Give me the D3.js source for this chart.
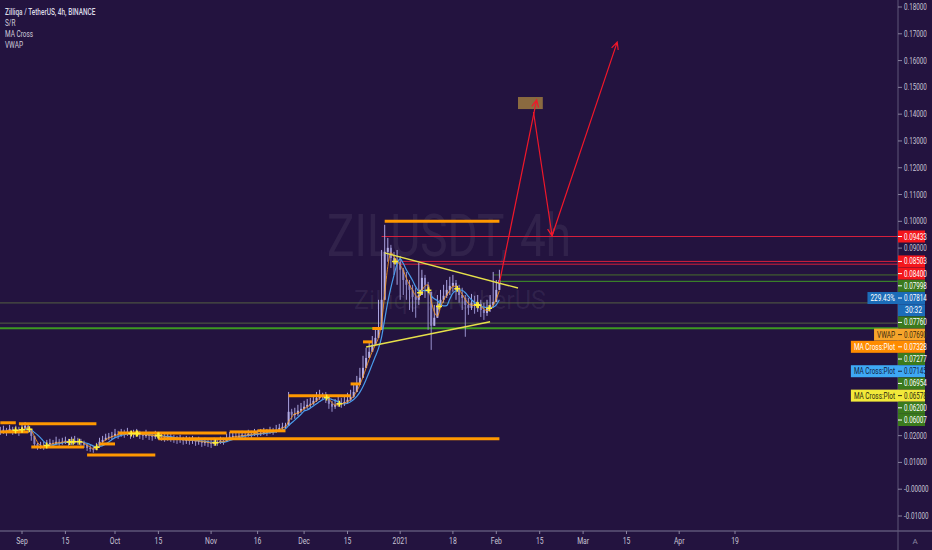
<!DOCTYPE html>
<html><head><meta charset="utf-8">
<script src="https://cdn.jsdelivr.net/npm/d3@7"></script>
<style>html,body{margin:0;padding:0;background:#23133f;overflow:hidden}svg{display:block}</style>
</head><body><svg id="c" width="932" height="550"></svg>
<script>
// ---------- DATA ----------
const firstDay = "2020-08-25"; // one candle per day
const closes = [
0.0218,0.0222,0.0214,0.0225,0.0218,0.0222,0.0214,0.0229,0.0237,0.0225,
0.0199,0.0169,0.0158,0.0162,0.0158,0.0169,0.0173,0.0169,0.0177,0.0173,
0.0177,0.0181,0.0173,0.0177,0.0181,0.0177,0.0173,0.0166,0.0154,0.0151,
0.0147,0.0162,0.0177,0.0184,0.0192,0.0196,0.0199,0.0207,0.0203,0.0210,
0.0207,0.0214,0.0203,0.0207,0.0210,0.0203,0.0199,0.0207,0.0199,0.0196,
0.0203,0.0199,0.0196,0.0192,0.0196,0.0192,0.0188,0.0184,0.0188,0.0181,
0.0184,0.0181,0.0184,0.0177,0.0181,0.0173,0.0177,0.0173,0.0169,0.0177,
0.0173,0.0181,0.0177,0.0188,0.0196,0.0199,0.0196,0.0199,0.0203,0.0199,
0.0207,0.0203,0.0210,0.0207,0.0210,0.0214,0.0210,0.0218,0.0214,0.0222,
0.0229,0.0233,0.0237,0.0289,0.0278,0.0281,0.0293,0.0300,0.0308,0.0315,
0.0319,0.0330,0.0341,0.0349,0.0352,0.0341,0.0319,0.0308,0.0315,0.0322,
0.0319,0.0326,0.0334,0.0345,0.0363,0.0390,0.0416,0.0453,0.0490,0.0513,
0.0539,0.0565,0.0595,0.0707,0.0886,0.0901,0.0863,0.0841,0.0849,0.0819,
0.0781,0.0763,0.0744,0.0718,0.0707,0.0725,0.0789,0.0763,0.0737,0.0610,
0.0640,0.0688,0.0707,0.0722,0.0744,0.0759,0.0770,0.0744,0.0725,0.0714,
0.0688,0.0677,0.0696,0.0684,0.0692,0.0669,0.0658,0.0673,0.0688,0.0699,
0.0744,0.0781];
const highs = [
0.0233,0.0237,0.0229,0.0240,0.0233,0.0237,0.0233,0.0244,0.0251,0.0240,
0.0225,0.0196,0.0173,0.0177,0.0177,0.0184,0.0188,0.0184,0.0196,0.0188,
0.0192,0.0196,0.0188,0.0196,0.0199,0.0192,0.0188,0.0181,0.0169,0.0166,
0.0162,0.0173,0.0192,0.0199,0.0207,0.0210,0.0214,0.0225,0.0218,0.0225,
0.0222,0.0229,0.0218,0.0222,0.0225,0.0218,0.0214,0.0222,0.0214,0.0210,
0.0218,0.0214,0.0210,0.0207,0.0210,0.0207,0.0203,0.0199,0.0203,0.0196,
0.0199,0.0196,0.0199,0.0192,0.0196,0.0188,0.0192,0.0188,0.0184,0.0192,
0.0188,0.0196,0.0192,0.0207,0.0214,0.0214,0.0210,0.0214,0.0218,0.0214,
0.0222,0.0218,0.0225,0.0222,0.0225,0.0229,0.0225,0.0233,0.0229,0.0240,
0.0244,0.0248,0.0248,0.0363,0.0300,0.0304,0.0315,0.0322,0.0330,0.0337,
0.0341,0.0352,0.0363,0.0371,0.0360,0.0363,0.0341,0.0330,0.0337,0.0345,
0.0341,0.0349,0.0360,0.0371,0.0393,0.0423,0.0453,0.0498,0.0528,0.0550,
0.0572,0.0602,0.0707,0.0893,0.0987,0.0938,0.0912,0.0886,0.0893,0.0871,
0.0826,0.0811,0.0781,0.0763,0.0752,0.0845,0.0819,0.0800,0.0774,0.0651,
0.0688,0.0725,0.0744,0.0763,0.0781,0.0793,0.0800,0.0781,0.0763,0.0752,
0.0725,0.0714,0.0729,0.0722,0.0725,0.0707,0.0696,0.0707,0.0725,0.0811,
0.0781,0.0819];
const lows = [
0.0203,0.0207,0.0199,0.0210,0.0203,0.0207,0.0199,0.0214,0.0222,0.0210,
0.0181,0.0154,0.0147,0.0151,0.0147,0.0158,0.0162,0.0158,0.0166,0.0162,
0.0166,0.0169,0.0162,0.0166,0.0169,0.0166,0.0162,0.0154,0.0143,0.0140,
0.0136,0.0147,0.0162,0.0173,0.0181,0.0184,0.0184,0.0192,0.0188,0.0196,
0.0192,0.0199,0.0188,0.0192,0.0196,0.0188,0.0184,0.0192,0.0184,0.0181,
0.0188,0.0184,0.0181,0.0177,0.0181,0.0177,0.0173,0.0169,0.0173,0.0166,
0.0169,0.0166,0.0169,0.0162,0.0166,0.0158,0.0162,0.0158,0.0154,0.0162,
0.0162,0.0169,0.0166,0.0177,0.0184,0.0188,0.0184,0.0188,0.0192,0.0188,
0.0196,0.0192,0.0199,0.0196,0.0199,0.0203,0.0199,0.0207,0.0203,0.0210,
0.0218,0.0222,0.0225,0.0259,0.0259,0.0263,0.0274,0.0285,0.0293,0.0300,
0.0304,0.0315,0.0326,0.0334,0.0337,0.0322,0.0300,0.0289,0.0300,0.0308,
0.0304,0.0311,0.0319,0.0330,0.0341,0.0371,0.0393,0.0431,0.0468,0.0490,
0.0513,0.0543,0.0572,0.0625,0.0707,0.0849,0.0826,0.0800,0.0763,0.0707,
0.0725,0.0707,0.0669,0.0662,0.0640,0.0688,0.0737,0.0714,0.0595,0.0520,
0.0613,0.0651,0.0677,0.0696,0.0714,0.0725,0.0737,0.0707,0.0696,0.0669,
0.0569,0.0651,0.0669,0.0655,0.0662,0.0643,0.0632,0.0647,0.0662,0.0677,
0.0714,0.0744];

// S/R segments (orange)
const srStart = ["2020-08-25","2020-08-31","2020-08-25","2020-09-04","2020-09-22","2020-09-26","2020-10-02","2020-10-15","2020-11-07","2020-11-16","2020-11-26","2020-12-16","2020-12-20","2020-12-23","2020-12-27"];
const srEnd   = ["2020-08-30","2020-09-25","2020-09-03","2020-09-21","2020-10-14","2020-10-01","2020-11-06","2021-02-02","2020-11-16","2020-11-25","2020-12-16","2020-12-19","2020-12-23","2020-12-26","2021-02-02"];
const srLevel = [0.0248,0.0244,0.0214,0.0158,0.0128,0.0169,0.0210,0.0188,0.0214,0.0218,0.0349,0.0393,0.0550,0.0600,0.1000];

// horizontal level lines
const levelValues = [0.09433,0.08503,0.08400,0.07998,0.07760,0.06954,0.06200,0.06007];
const levelStarts = ["2020-12-26","2021-01-01","2021-01-01","2021-01-31","2021-02-02","2020-08-20","2020-08-20","2020-08-20"];
const levelKinds  = ["red","red","red","olive","green","grey","grey","greenBold"];

// trend lines (triangle)
const trendFrom = [["2020-12-27",0.0882],["2020-12-21",0.0531]];
const trendTo   = [["2021-02-08",0.0751],["2021-01-30",0.0625]];

// projection arrows
const arrowFrom = [["2021-02-02",0.0770],["2021-02-13",0.1408],["2021-02-19",0.0946]];
const arrowTo   = [["2021-02-14",0.1453],["2021-02-19",0.0946],["2021-03-12",0.1669]];
const boxDates  = ["2021-02-08","2021-02-16"];
const boxValues = [0.1464,0.1419];

// axes
const xTickDates  = ["2020-09-01","2020-09-15","2020-10-01","2020-10-15","2020-11-01","2020-11-16","2020-12-01","2020-12-15","2021-01-01","2021-01-18","2021-02-01","2021-02-15","2021-03-01","2021-03-15","2021-04-01","2021-04-19"];
const xTickLabels = ["Sep","15","Oct","15","Nov","16","Dec","15","2021","18","Feb","15","Mar","15","Apr","19"];
const yTickValues = [0.18,0.17,0.16,0.15,0.14,0.13,0.12,0.11,0.10,0.09,0.08,0.07,0.06,0.05,0.04,0.03,0.02,0.01,0,-0.01];
const yTickLabels = ["0.18000","0.17000","0.16000","0.15000","0.14000","0.13000","0.12000","0.11000","0.10000","0.09000","0.08000","0.07000","0.06000","0.05000","0.04000","0.03000","0.02000","0.01000","-0.00000","-0.01000"];

// price-scale labels
const tagValues = [0.09433,0.08503,0.08400,0.07998,0.07814,null,0.07760,0.07690,0.07328,0.07277,0.07145,0.06954,0.06578,0.06200,0.06007];
const tagTexts  = ["0.09433","0.08503","0.08400","0.07998","0.07814","30:32","0.07760","0.07690","0.07328","0.07277","0.07145","0.06954","0.06578","0.06200","0.06007"];
const tagKinds  = ["red","red","red","green","price","price","green","vwap","maO","green","maB","green","maY","green","green"];
const tagSide   = ["","","","","229.43%","","","VWAP","MA Cross:Plot","","MA Cross:Plot","","MA Cross:Plot","",""];

const legendLines = ["Zilliqa / TetherUS, 4h, BINANCE","S/R","MA Cross","VWAP"];

// ---------- STYLE ----------
const BG="#23133f", FONT="Roboto, 'Noto Sans', sans-serif";
const tagColors = {red:["#f4161c","#fff"],green:["#3b7a1d","#fff"],price:["#1c6cb8","#fff"],vwap:["#f6a52b","#3a2a10"],maO:["#ff8c00","#fff"],maB:["#3ea8f4","#13213f"],maY:["#f2e93a","#2a2a10"]};
const lineColors = {red:["#d61f3c",1,1],olive:["#4d7a2a",1,0.9],grey:["#5b6a45",1,0.9],green:["#3f9a25",1,1],greenBold:["#3c9a22",2,1]};

const P = d3.utcParse("%Y-%m-%d");
const svg = d3.select("#c");
const W=932,H=550,AX=898,AY=531;
svg.append("rect").attr("width",W).attr("height",H).attr("fill",BG);

const x = d3.scaleUtc().domain([P("2020-09-01"),P("2021-04-19")]).range([22,735]);
const y = d3.scaleLinear().domain([-0.01,0.18]).range([516,7]);

svg.append("defs").append("clipPath").attr("id","pc").append("rect").attr("width",AX).attr("height",AY);
const g = svg.append("g").attr("clip-path","url(#pc)");

// condensed text helper (horizontal scale)
function ctext(parent,tx,ty,t,size,fill,anchor,f,weight){
  return parent.append("text").attr("transform",`translate(${tx},${ty}) scale(${f},1)`)
    .attr("x",0).attr("y",0).attr("text-anchor",anchor||"start").attr("font-family",FONT)
    .attr("font-size",size).attr("font-weight",weight||400).attr("fill",fill).text(t);
}

// watermark
g.append("text").attr("x",449).attr("y",256).attr("text-anchor","middle")
 .attr("font-family",FONT).attr("font-size",60).attr("fill","rgba(255,255,255,0.065)")
 .attr("textLength",244).attr("lengthAdjust","spacingAndGlyphs").text("ZILUSDT, 4h");
g.append("text").attr("x",450).attr("y",309).attr("text-anchor","middle")
 .attr("font-family",FONT).attr("font-size",25).attr("fill","rgba(255,255,255,0.065)")
 .attr("textLength",192).attr("lengthAdjust","spacingAndGlyphs").text("Zilliqa / TetherUS");

// level lines
levelValues.forEach((v,i)=>{
  const c=lineColors[levelKinds[i]];
  g.append("line").attr("x1",x(P(levelStarts[i]))).attr("x2",AX).attr("y1",y(v)).attr("y2",y(v))
   .attr("stroke",c[0]).attr("stroke-width",c[1]).attr("opacity",c[2]);
});

// candles
const n = closes.length;
const dates = d3.range(n).map(i=>d3.utcDay.offset(P(firstDay),i));
const candles = dates.map((d,i)=>{
  const o = i? closes[i-1] : closes[0];
  const c = closes[i];
  return {d, o, c, h:Math.max(highs[i],o,c), l:Math.min(lows[i],o,c)};
});
const cg = g.append("g");
cg.selectAll("line.w").data(candles).join("line")
  .attr("x1",d=>x(d.d)).attr("x2",d=>x(d.d)).attr("y1",d=>y(d.h)).attr("y2",d=>y(d.l))
  .attr("stroke",d=>d.c>=d.o?"#aaa3df":"#9790cc").attr("stroke-width",1);
cg.selectAll("rect").data(candles).join("rect")
  .attr("x",d=>x(d.d)-1).attr("width",2)
  .attr("y",d=>y(Math.max(d.o,d.c))).attr("height",d=>Math.max(1,Math.abs(y(d.o)-y(d.c))))
  .attr("fill",d=>d.c>=d.o?"#b3ade6":"#8f88c6");

// moving averages (MA Cross indicator)
function sma(arr,k){return arr.map((v,i)=>i<k-1?null:d3.mean(arr.slice(i-k+1,i+1)));}
const maFast = sma(closes,3), maSlow = sma(closes,6);
const lineGen = d3.line().defined(d=>d[1]!=null).x(d=>x(d[0])).y(d=>y(d[1])).curve(d3.curveMonotoneX);
g.append("path").attr("d",lineGen(dates.map((d,i)=>[d,maSlow[i]]))).attr("fill","none").attr("stroke","#4a9cec").attr("stroke-width",1.2);
g.append("path").attr("d",lineGen(dates.map((d,i)=>[d,maFast[i]]))).attr("fill","none").attr("stroke","#ff9a1a").attr("stroke-width",1).attr("opacity",0.85);

// S/R segments
srLevel.forEach((v,i)=>{
  g.append("line").attr("x1",x(P(srStart[i]))).attr("x2",x(P(srEnd[i]))).attr("y1",y(v)).attr("y2",y(v))
   .attr("stroke","#ff9800").attr("stroke-width",3);
});

// cross markers: crossings of short (2) and long (5) averages
const mA = sma(closes,2), mB = sma(closes,5);
const crosses=[];
for(let i=1;i<n;i++){
  if(mB[i-1]==null) continue;
  const a=mA[i-1]-mB[i-1], b=mA[i]-mB[i];
  if(a*b<0){const t=a/(a-b);
    crosses.push([new Date(+dates[i-1]+t*(dates[i]-dates[i-1])), mA[i-1]+t*(mA[i]-mA[i-1])]);}
}
crosses.forEach(c=>{
  const cx=x(c[0]), cy=y(c[1]);
  g.append("path").attr("d",`M${cx-3},${cy}H${cx+3}M${cx},${cy-3}V${cy+3}`).attr("stroke","#ffee33").attr("stroke-width",1.5);
});

// trend lines
trendFrom.forEach((f,i)=>{
  g.append("line").attr("x1",x(P(f[0]))).attr("y1",y(f[1])).attr("x2",x(P(trendTo[i][0]))).attr("y2",y(trendTo[i][1]))
   .attr("stroke","#e6e04a").attr("stroke-width",1.4);
});

// target box
g.append("rect").attr("x",x(P(boxDates[0]))).attr("width",x(P(boxDates[1]))-x(P(boxDates[0])))
 .attr("y",y(boxValues[0])).attr("height",y(boxValues[1])-y(boxValues[0])).attr("fill","#8a6a40");

// arrows
arrowFrom.forEach((f,i)=>{
  const x1=x(P(f[0])), y1=y(f[1]), x2=x(P(arrowTo[i][0])), y2=y(arrowTo[i][1]);
  const ang=Math.atan2(y2-y1,x2-x1), L=8, sp=0.45;
  const p=`M${x1},${y1}L${x2},${y2}M${x2-L*Math.cos(ang-sp)},${y2-L*Math.sin(ang-sp)}L${x2},${y2}L${x2-L*Math.cos(ang+sp)},${y2-L*Math.sin(ang+sp)}`;
  g.append("path").attr("d",p).attr("fill","none").attr("stroke","#f0172a").attr("stroke-width",1.2);
});

// axes lines
svg.append("line").attr("x1",0).attr("x2",W).attr("y1",AY).attr("y2",AY).attr("stroke","#5e5678").attr("stroke-width",1.5);
svg.append("line").attr("x1",AX).attr("x2",AX).attr("y1",0).attr("y2",H).attr("stroke","#5e5678").attr("stroke-width",1);

const TXT="#c9c6d6";

// x axis
const xa = svg.append("g");
xTickDates.forEach((t,i)=>{
  const xx=x(P(t));
  xa.append("line").attr("x1",xx).attr("x2",xx).attr("y1",AY).attr("y2",AY+3).attr("stroke","#8a84a0");
  ctext(xa,xx,544,xTickLabels[i],8.5,TXT,"middle",0.8);
});
svg.append("text").attr("x",915).attr("y",544).attr("text-anchor","middle").attr("font-family",FONT).attr("font-size",8).attr("fill","#8a86a0").text("A");

// stacked tag positions
const STEP=12.2;
const tagPos=[]; let prev=-1e9;
tagTexts.forEach((t,i)=>{
  const want = tagValues[i]==null ? prev+STEP : y(tagValues[i]);
  const pos = Math.max(want, prev+STEP); prev=pos; tagPos.push(pos);
});

// y axis (ticks hidden where a tag covers them)
const ya = svg.append("g");
yTickValues.forEach((v,i)=>{
  const yy=y(v);
  if(tagPos.some(p=>Math.abs(p-yy)<8)) return;
  ya.append("line").attr("x1",AX).attr("x2",AX+4).attr("y1",yy).attr("y2",yy).attr("stroke","#8a84a0");
  ctext(ya,AX+6,yy+3,yTickLabels[i],8.5,TXT,"start",0.74);
});

// tags
const tg = svg.append("g");
tagTexts.forEach((t,i)=>{
  const pos=tagPos[i], col=tagColors[tagKinds[i]];
  if(tagSide[i]){
    const st=ctext(tg,AX-3,pos+3,tagSide[i],8.5,col[1],"end",0.76);
    const w=st.node().getComputedTextLength()*0.76;
    tg.insert("rect",()=>st.node()).attr("x",AX-w-6).attr("y",pos-6).attr("width",w+6).attr("height",12).attr("fill",col[0]);
  }
  tg.append("rect").attr("x",AX).attr("y",pos-6).attr("width",27).attr("height",12).attr("fill",col[0]);
  if(tagValues[i]!=null){
    tg.append("line").attr("x1",AX).attr("x2",AX+4).attr("y1",pos).attr("y2",pos).attr("stroke",col[1]);
    ctext(tg,AX+6,pos+3,t,8.5,col[1],"start",0.74);
  } else {
    ctext(tg,AX+24,pos+3,t,8.5,col[1],"end",0.8);
  }
});

// legend
const lg = svg.append("g");
legendLines.forEach((t,i)=>{
  ctext(lg,5,14.5+i*11,t,8.5,i===0?"#dcdae6":"#cfcbdc","start",0.76,i===0?500:400);
});
</script>
</body></html>
